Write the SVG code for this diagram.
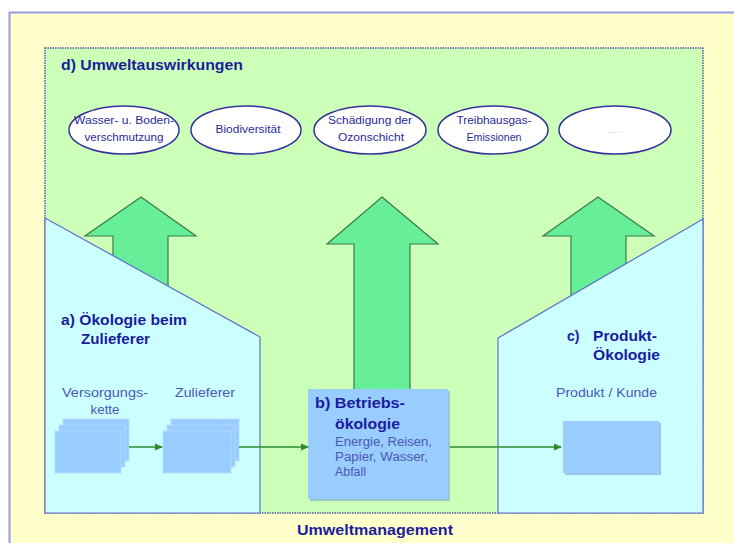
<svg xmlns="http://www.w3.org/2000/svg" width="734" height="543" viewBox="0 0 734 543">
<defs>
<style>
.bold{font-family:"Liberation Sans",Arial,sans-serif;font-weight:bold;font-size:14px;fill:#1c1c9c}
.sub{font-family:"Liberation Sans",Arial,sans-serif;font-size:12px;fill:#4a58b0}
.ell{font-family:"Liberation Sans",Arial,sans-serif;font-size:10px;fill:#2a2a96}
.bigarrow{fill:#66EE99;stroke:#3f7a4a;stroke-width:1.2}
.panel{fill:#CCFFFF;stroke:#6070cc;stroke-width:1.2}
.box{fill:#99CCFF}
.layer{fill:#99CCFF;stroke:#b8dcff;stroke-width:0.8}
.conn{stroke:#2e8b2e;stroke-width:1.5;fill:none}
.oval{fill:#ffffff;stroke:#33339a;stroke-width:1.5}
</style>
<marker id="ah" markerWidth="8" markerHeight="8" refX="7" refY="4" orient="auto" markerUnits="userSpaceOnUse">
<path d="M0,0.5 L8,4 L0,7.5 Z" fill="#2e8b2e"/>
</marker>
</defs>
<rect x="0" y="0" width="734" height="543" fill="#ffffff"/>
<g id="frame">
<rect x="9.5" y="12.5" width="740" height="540" fill="#FFFFCC" stroke="#9999DD" stroke-width="2"/>
</g>
<g id="umweltauswirkungen">
<rect x="45" y="48" width="658" height="465" fill="#CCFFB8" stroke="#5a5aa6" stroke-width="1.5" stroke-dasharray="1.5 1"/>
<text class="bold" x="61" y="70" textLength="182" lengthAdjust="spacingAndGlyphs">d) Umweltauswirkungen</text>
</g>
<g id="impact-1">
<ellipse class="oval" cx="124" cy="130" rx="55" ry="24"/>
<text class="ell" x="124" y="124" text-anchor="middle" textLength="100" lengthAdjust="spacingAndGlyphs">Wasser- u. Boden-</text>
<text class="ell" x="124" y="141" text-anchor="middle" textLength="79" lengthAdjust="spacingAndGlyphs">verschmutzung</text>
</g>
<g id="impact-2">
<ellipse class="oval" cx="246" cy="130" rx="55" ry="24"/>
<text class="ell" x="248" y="133" text-anchor="middle" textLength="65" lengthAdjust="spacingAndGlyphs">Biodiversität</text>
</g>
<g id="impact-3">
<ellipse class="oval" cx="370" cy="130" rx="56" ry="24"/>
<text class="ell" x="370" y="124" text-anchor="middle" textLength="84" lengthAdjust="spacingAndGlyphs">Schädigung der</text>
<text class="ell" x="371" y="141" text-anchor="middle" textLength="66" lengthAdjust="spacingAndGlyphs">Ozonschicht</text>
</g>
<g id="impact-4">
<ellipse class="oval" cx="493" cy="130" rx="55" ry="24"/>
<text class="ell" x="494" y="124" text-anchor="middle" textLength="75" lengthAdjust="spacingAndGlyphs">Treibhausgas-</text>
<text class="ell" x="494" y="141" text-anchor="middle" textLength="55" lengthAdjust="spacingAndGlyphs">Emissionen</text>
</g>
<g id="impact-5">
<ellipse class="oval" cx="615" cy="130" rx="56" ry="24"/>
<text class="ell" x="615" y="133" text-anchor="middle" style="fill:#c8c8ee">.....</text>
</g>
<g id="arrow-left">
<polygon class="bigarrow" points="141,197 196,236 168,236 168,330 113,330 113,236 85,236"/>
</g>
<g id="arrow-center">
<polygon class="bigarrow" points="382,197 438,244 410,244 410,392 354,392 354,244 327,244"/>
</g>
<g id="arrow-right">
<polygon class="bigarrow" points="598,197 654,236 626,236 626,340 571,340 571,236 543,236"/>
</g>
<g id="zulieferer-oekologie">
<polygon class="panel" points="45,218 260,337 260,513 45,513"/>
<text class="bold" x="61" y="325" textLength="126" lengthAdjust="spacingAndGlyphs">a) Ökologie beim</text>
<text class="bold" x="81" y="344" textLength="69" lengthAdjust="spacingAndGlyphs">Zulieferer</text>
</g>
<g id="produkt-oekologie">
<polygon class="panel" points="498,338 703,219 703,513 498,513"/>
<text class="bold" x="567" y="341">c)</text>
<text class="bold" x="593" y="341" textLength="64" lengthAdjust="spacingAndGlyphs">Produkt-</text>
<text class="bold" x="593" y="360" textLength="67" lengthAdjust="spacingAndGlyphs">Ökologie</text>
</g>
<g id="versorgungskette">
<text class="sub" x="105" y="397" text-anchor="middle" textLength="86" lengthAdjust="spacingAndGlyphs">Versorgungs-</text>
<text class="sub" x="105" y="414" text-anchor="middle" textLength="29" lengthAdjust="spacingAndGlyphs">kette</text>
<rect class="layer" x="63" y="419" width="66" height="42"/>
<rect class="layer" x="59" y="425" width="66" height="42"/>
<rect class="layer" x="55" y="431" width="66" height="42"/>
</g>
<g id="zulieferer">
<text class="sub" x="205" y="397" text-anchor="middle" textLength="60" lengthAdjust="spacingAndGlyphs">Zulieferer</text>
<rect class="layer" x="171" y="419" width="68" height="42"/>
<rect class="layer" x="167" y="425" width="68" height="42"/>
<rect class="layer" x="163" y="431" width="68" height="42"/>
</g>
<g id="betriebsoekologie">
<rect x="310" y="391" width="140" height="110" fill="#7f9fcf" opacity="0.6"/>
<rect class="box" x="308" y="389" width="140" height="110"/>
<text class="bold" x="315" y="408" textLength="90" lengthAdjust="spacingAndGlyphs">b) Betriebs-</text>
<text class="bold" x="335" y="429" textLength="65" lengthAdjust="spacingAndGlyphs">ökologie</text>
<text class="sub" x="335" y="446" textLength="97" lengthAdjust="spacingAndGlyphs">Energie, Reisen,</text>
<text class="sub" x="335" y="461" textLength="93" lengthAdjust="spacingAndGlyphs">Papier, Wasser,</text>
<text class="sub" x="335" y="476" textLength="31" lengthAdjust="spacingAndGlyphs">Abfall</text>
</g>
<g id="produkt-kunde">
<text class="sub" x="556" y="397" textLength="101" lengthAdjust="spacingAndGlyphs">Produkt / Kunde</text>
<rect x="565" y="423" width="96" height="52" fill="#7f9fcf" opacity="0.6"/>
<rect class="box" x="563" y="421" width="96" height="52"/>
</g>
<g id="connectors">
<line class="conn" x1="129" y1="447" x2="162" y2="447" marker-end="url(#ah)"/>
<line class="conn" x1="239" y1="447" x2="308" y2="447" marker-end="url(#ah)"/>
<line class="conn" x1="450" y1="447" x2="561" y2="447" marker-end="url(#ah)"/>
</g>
<g id="umweltmanagement">
<text class="bold" x="297" y="535" textLength="156" lengthAdjust="spacingAndGlyphs">Umweltmanagement</text>
</g>
</svg>
